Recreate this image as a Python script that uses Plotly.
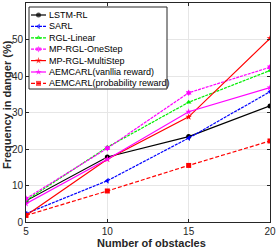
import plotly.graph_objects as go

obstacles = [5, 10, 15, 20]
lstm_rl = [5.8, 17.8, 23.4, 31.8]
sarl = [2.3, 11.3, 23.0, 35.7]
rgl_linear = [5.9, 20.5, 32.8, 41.5]
mp_rgl_onestep = [6.4, 20.2, 35.4, 42.4]
mp_rgl_multistep = [1.8, 17.2, 28.8, 50.3]
aemcarl_vanilla = [5.0, 17.2, 30.2, 36.8]
aemcarl_prob = [1.8, 8.5, 15.5, 22.2]
x_ticks = [5, 10, 15, 20]
y_ticks = [0, 10, 20, 30, 40, 50, 60]

series = [
    ("LSTM-RL", lstm_rl, "#000000", "circle", "solid"),
    ("SARL", sarl, "#0000ff", "triangle-left", "3px,1px"),
    ("RGL-Linear", rgl_linear, "#00ee00", "triangle-up", "3px,1px"),
    ("MP-RGL-OneStep", mp_rgl_onestep, "#ff00ff", "hexagram", "3px,1px"),
    ("MP-RGL-MultiStep", mp_rgl_multistep, "#ff0000", "star", "solid"),
    ("AEMCARL(vanllia reward)", aemcarl_vanilla, "#ff00ff", "star", "solid"),
    ("AEMCARL(probability reward)", aemcarl_prob, "#ff0000", "square", "4px,2px"),
]

W, H = 276, 249
ML, MR, MT, MB = 26, 6, 3, 27
PW, PH = W - ML - MR, H - MT - MB


def px(xabs):
    return (xabs - ML) / PW


def py(yabs):
    return 1 - (yabs - MT) / PH


fig = go.Figure()
for name, vals, color, sym, dash in series:
    fig.add_trace(go.Scatter(
        x=obstacles, y=vals, name=name, mode="lines+markers",
        line=dict(color=color, width=1.2, dash=dash),
        marker=dict(symbol=sym, size=5, color=color, line=dict(width=0)),
        showlegend=False,
    ))

# custom compact legend (pixel overlay axes)
box_l, box_r, box_t, box_b = 29 - ML, 167 - ML, 7 - MT, 89 - MT
row0, drow = 15 - MT, 11.4
fig.add_trace(go.Scatter(
    x=[box_l, box_r, box_r, box_l, box_l], y=[box_t, box_t, box_b, box_b, box_t],
    xaxis="x2", yaxis="y2", mode="lines", fill="toself", fillcolor="white",
    line=dict(color="#262626", width=1), showlegend=False, hoverinfo="skip",
))
annotations = []
for i, (name, vals, color, sym, dash) in enumerate(series):
    yy = row0 + i * drow
    fig.add_trace(go.Scatter(
        x=[box_l + 2, box_l + 9.5, box_l + 17], y=[yy, yy, yy], xaxis="x2", yaxis="y2",
        mode="lines+markers", line=dict(color=color, width=1.2, dash=dash),
        marker=dict(symbol=sym, size=[0, 5, 0], color=color, line=dict(width=0)),
        showlegend=False, hoverinfo="skip",
    ))
    annotations.append(dict(x=box_l + 17.5, y=yy, xref="x2", yref="y2", text=name,
                            showarrow=False, xanchor="left", yanchor="middle",
                            font=dict(size=9, color="#000000")))

annotations.append(dict(x=px(151), y=py(243), xref="paper", yref="paper",
                        text="<b>Number of obstacles</b>", showarrow=False,
                        xanchor="center", yanchor="middle",
                        font=dict(size=11, color="#262626")))
annotations.append(dict(x=px(7), y=py(105), xref="paper", yref="paper",
                        text="<b>Frequency in danger (%)</b>", showarrow=False, textangle=-90,
                        xanchor="center", yanchor="middle",
                        font=dict(size=11, color="#262626")))

font = "Liberation Sans, Arial, sans-serif"
axis_common = dict(showgrid=True, gridcolor="#e6e6e6", gridwidth=1, showline=True,
                   linecolor="#262626", linewidth=1, mirror="ticks", ticks="inside",
                   ticklen=3, tickcolor="#262626", zeroline=False, automargin=False,
                   showticklabels=True, tickmode="array",
                   tickfont=dict(size=10, color="#262626"))
fig.update_layout(
    width=W, height=H,
    margin=dict(l=ML, r=MR, t=MT, b=MB),
    paper_bgcolor="white", plot_bgcolor="white",
    font=dict(family=font, size=10, color="#262626"),
    showlegend=False,
    xaxis=dict(range=[5, 20], tickvals=x_ticks, ticktext=[str(v) for v in x_ticks], **axis_common),
    yaxis=dict(range=[0, 60], tickvals=y_ticks, ticktext=[str(v) for v in y_ticks], **axis_common),
    xaxis2=dict(range=[0, PW], overlaying="x", visible=False, fixedrange=True),
    yaxis2=dict(range=[PH, 0], overlaying="y", visible=False, fixedrange=True),
    annotations=annotations,
)
fig.write_html("out.html", config={"displayModeBar": False},
               post_script="document.body.style.margin='0px';")
